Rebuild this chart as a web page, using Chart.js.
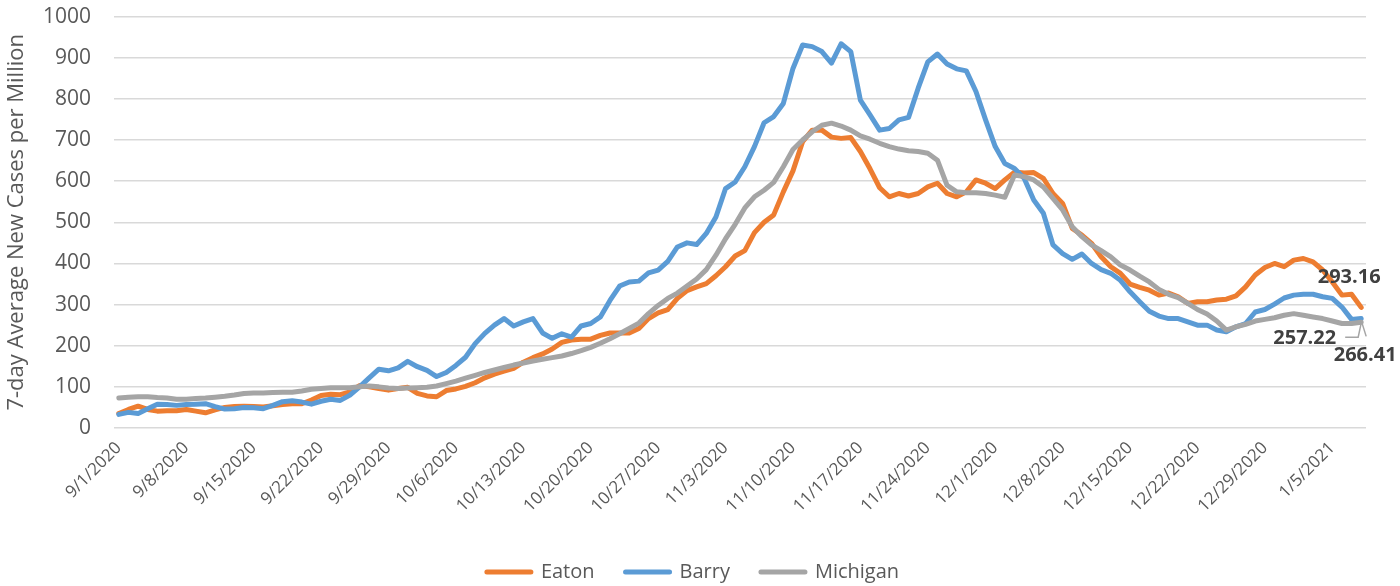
<!DOCTYPE html>
<html>
<head>
<meta charset="utf-8">
<script src="https://cdn.jsdelivr.net/npm/chart.js@4.4.1/dist/chart.umd.min.js"></script>
<style>
  html, body { margin: 0; padding: 0; background: #ffffff; }
  #wrap { width: 1400px; height: 586px; }
</style>
</head>
<body>
<div id="wrap"><canvas id="grafico" width="1400" height="586"></canvas></div>
<script>
const START_DATE = new Date(2020, 8, 1);
const NUM_DAYS = 130;

const tickDates = [
  "9/1/2020", "9/8/2020", "9/15/2020", "9/22/2020", "9/29/2020",
  "10/6/2020", "10/13/2020", "10/20/2020", "10/27/2020", "11/3/2020",
  "11/10/2020", "11/17/2020", "11/24/2020", "12/1/2020", "12/8/2020",
  "12/15/2020", "12/22/2020", "12/29/2020", "1/5/2021"
];

const eaton = [
  35, 45, 53, 45, 41, 42, 42, 45, 41, 37,
  44, 50, 52, 53, 52, 51, 54, 57, 59, 59,
  68, 79, 82, 81, 88, 103, 100, 96, 92, 96,
  99, 84, 78, 76, 91, 95, 101, 110, 122, 131,
  138, 145, 160, 171, 180, 192, 208, 214, 216, 216,
  225, 231, 231, 231, 242, 266, 280, 288, 315, 334,
  343, 351, 370, 392, 418, 431, 475, 500, 518, 574,
  625, 696, 724, 724, 707, 704, 706, 672, 630, 584,
  562, 570, 564, 570, 586, 595, 570, 562, 574, 603,
  595, 582, 603, 622, 620, 621, 607, 570, 546, 485,
  469, 449, 416, 392, 376, 350, 342, 335, 323, 328,
  319, 303, 307, 307, 311, 313, 321, 343, 372, 390,
  400, 392, 408, 412, 404, 384, 355, 323, 325, 293.16
];

const barry = [
  33, 38, 35, 47, 58, 57, 55, 57, 58, 59,
  52, 46, 47, 50, 49, 47, 55, 64, 66, 63,
  58, 65, 70, 67, 80, 100, 122, 143, 139, 146,
  162, 149, 140, 125, 135, 152, 172, 205, 230, 250,
  266, 248, 258, 266, 231, 218, 229, 221, 248, 254,
  270, 310, 345, 355, 357, 377, 384, 405, 440, 450,
  446, 473, 513, 582, 598, 635, 684, 742, 757, 789,
  874, 931, 927, 915, 887, 934, 915, 797, 761, 724,
  728, 749, 755, 826, 890, 909, 885, 873, 868, 818,
  749, 684, 643, 631, 607, 554, 522, 445, 424, 410,
  423, 400, 385, 376, 359, 331, 307, 284, 272, 266,
  266, 258, 250, 250, 238, 234, 246, 254, 282, 288,
  301, 316, 323, 325, 325, 319, 315, 294, 264, 266.41
];

const michigan = [
  73, 75, 76, 76, 74, 73, 70, 70, 72, 73,
  75, 77, 80, 84, 85, 85, 86, 87, 87, 90,
  94, 96, 98, 98, 98, 100, 102, 100, 97, 96,
  97, 98, 99, 102, 108, 114, 121, 128, 135, 141,
  147, 153, 158, 163, 167, 171, 175, 181, 188, 196,
  206, 217, 229, 242, 255, 278, 298, 315, 328, 345,
  362, 385, 420, 460, 495, 535, 562, 578, 597, 635,
  677, 700, 720, 736, 741, 734, 724, 710, 702, 692,
  684, 678, 674, 672, 668, 651, 590, 574, 572, 572,
  570, 566, 561, 615, 611, 603, 586, 558, 530, 489,
  465, 445, 431, 416, 396, 384, 369, 355, 337, 325,
  317, 303, 288, 277, 260, 238, 246, 252, 260, 264,
  268, 274, 278, 274, 270, 266, 260, 254, 254, 257.22
];

function montarDatas() {
  const datas = [];
  for (let i = 0; i < NUM_DAYS; i++) {
    const d = new Date(START_DATE);
    d.setDate(d.getDate() + i);
    datas.push(`${d.getMonth() + 1}/${d.getDate()}/${d.getFullYear()}`);
  }
  return datas;
}

const datas = montarDatas();

const TEXT_COLOR = "#595959";
const GRID_COLOR = "#d9d9d9";
const FONT = '"Open Sans", "Noto Sans", sans-serif';

Chart.defaults.font.family = FONT;

// value labels at the end of each line
const endLabels = {
  id: "endLabels",
  afterDatasetsDraw(chart) {
    const { ctx } = chart;
    const x = chart.scales.x;
    const y = chart.scales.y;
    const last = datas.length - 1;
    const px = x.getPixelForValue(last);

    ctx.save();
    ctx.font = "bold 20px " + FONT;
    ctx.fillStyle = "#404040";
    ctx.textBaseline = "middle";

    const ey = y.getPixelForValue(eaton[last]);
    ctx.textAlign = "center";
    ctx.fillText(eaton[last].toFixed(2), px - 12, ey - 30);

    const my = y.getPixelForValue(michigan[last]);
    ctx.textAlign = "right";
    ctx.fillText(michigan[last].toFixed(2), px - 25, my + 16);

    const by = y.getPixelForValue(barry[last]);
    ctx.textAlign = "center";
    ctx.fillText(barry[last].toFixed(2), px + 4, by + 37);

    ctx.strokeStyle = "#a5a5a5";
    ctx.lineWidth = 1.5;
    ctx.beginPath();
    ctx.moveTo(px - 16, my + 15);
    ctx.lineTo(px - 3, my + 15);
    ctx.lineTo(px, my + 1);
    ctx.stroke();

    ctx.beginPath();
    ctx.moveTo(px, by + 2);
    ctx.lineTo(px + 5, by + 18);
    ctx.stroke();
    ctx.restore();
  }
};

// legend drawn by hand so it sits where the original has it
const legendaManual = {
  id: "legendaManual",
  afterDraw(chart) {
    const { ctx } = chart;
    const itens = chart.data.datasets;
    const marcador = 48;
    const gap = 8;
    const espaco = 29;
    const yLeg = 572;

    ctx.save();
    ctx.font = "20px " + FONT;
    ctx.textBaseline = "middle";
    ctx.textAlign = "left";

    let total = 0;
    itens.forEach((ds, i) => {
      total += marcador + gap + ctx.measureText(ds.label).width;
      if (i < itens.length - 1) total += espaco;
    });

    let x = 692 - total / 2;
    itens.forEach((ds) => {
      ctx.strokeStyle = ds.borderColor;
      ctx.lineWidth = 5;
      ctx.lineCap = "round";
      ctx.beginPath();
      ctx.moveTo(x + 2, yLeg);
      ctx.lineTo(x + marcador - 2, yLeg);
      ctx.stroke();
      x += marcador + gap;
      ctx.fillStyle = TEXT_COLOR;
      ctx.fillText(ds.label, x, yLeg);
      x += ctx.measureText(ds.label).width + espaco;
    });
    ctx.restore();
  }
};

function serie(label, data, color, order) {
  return {
    label,
    data,
    borderColor: color,
    backgroundColor: color,
    borderWidth: 5,
    borderCapStyle: "round",
    borderJoinStyle: "round",
    pointRadius: 0,
    pointHoverRadius: 0,
    tension: 0,
    fill: false,
    order
  };
}

new Chart(document.getElementById("grafico"), {
  type: "line",
  data: {
    labels: datas,
    datasets: [
      serie("Eaton", eaton, "#ED7D31", 3),
      serie("Barry", barry, "#5B9BD5", 2),
      serie("Michigan", michigan, "#A5A5A5", 1)
    ]
  },
  options: {
    responsive: false,
    animation: false,
    devicePixelRatio: 1,
    layout: {
      padding: { top: 4, right: 34, bottom: 0, left: 0 }
    },
    plugins: {
      tooltip: { enabled: false },
      legend: { display: false }
    },
    scales: {
      x: {
        offset: true,
        grid: { display: false, drawTicks: false },
        border: { display: false },
        ticks: {
          autoSkip: false,
          minRotation: 45,
          maxRotation: 45,
          padding: 10,
          color: TEXT_COLOR,
          font: { size: 17 },
          callback: function(value, index) {
            const label = datas[index];
            return tickDates.includes(label) ? label : "";
          }
        },
        afterFit: (scale) => { scale.height = 158; }
      },
      y: {
        min: 0,
        max: 1000,
        grid: {
          color: GRID_COLOR,
          lineWidth: 1.5,
          drawTicks: true,
          tickLength: 19,
          tickColor: "rgba(0,0,0,0)"
        },
        border: { display: false },
        ticks: {
          stepSize: 100,
          padding: 4,
          color: TEXT_COLOR,
          font: { size: 21 },
          callback: (value) => String(value)
        },
        title: {
          display: true,
          text: "7-day Average New Cases per Million",
          color: TEXT_COLOR,
          font: { size: 22 },
          padding: { top: 4, bottom: 0 }
        },
        afterFit: (scale) => { scale.width = 114; }
      }
    }
  },
  plugins: [endLabels, legendaManual]
});
</script>
</body>
</html>
